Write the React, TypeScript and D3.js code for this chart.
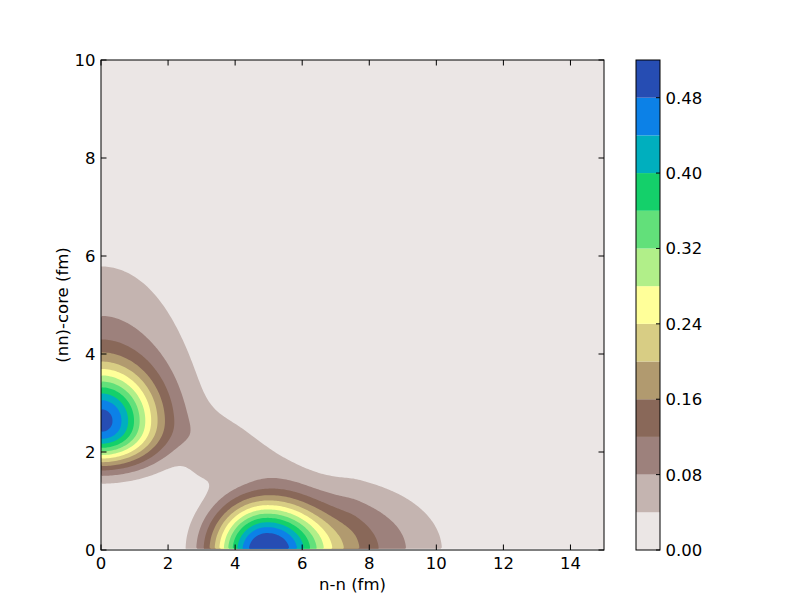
import React, { useEffect, useRef } from 'react';
import * as d3 from 'd3';

// contour levels and one colour per band (terrain_r)
const levels = [0, 0.04, 0.08, 0.12, 0.16, 0.2, 0.24, 0.28, 0.32, 0.36, 0.4, 0.44, 0.48, 0.52];
const bandColors = [
  '#ebe6e5', '#c4b4b0', '#9d817c', '#896859', '#b19a6f', '#d8cd84', '#ffff99',
  '#b1ef89', '#62e07a', '#14d06a', '#00afbe', '#0c81e7', '#264db3',
];
const xTicks = [0, 2, 4, 6, 8, 10, 12, 14];
const yTicks = [0, 2, 4, 6, 8, 10];
const barTicks = [0, 0.08, 0.16, 0.24, 0.32, 0.4, 0.48];

// A core, A halo, B core, B tail, bridge, saddle
const lumpX = [0, 0, 4.92, 7.6, 4.3, 3.05];
const lumpY = [2.64, 2.64, 0, 0, 2.0, 1.7];
const lumpHeight = [0.37, 0.13, 0.52, 0.125, 0.042, 0.03];
const lumpLeft = [1.1, 1.8, 1.14, 0.95, 1.1, 0.45];
const lumpRight = [1.1, 1.8, 1.3, 1.58, 1.4, 0.6];
const lumpDown = [0.68, 0.6, 0.74, 0.9, 0.36, 0.33];
const lumpUp = [0.72, 2.05, 0.74, 0.9, 0.55, 0.5];
const lumpPowX = [2, 2, 2, 1.7, 2, 2];
const lumpPowDown = [2.6, 2, 2, 2, 2, 2];
const lumpPowUp = [2, 2, 2, 2, 2, 2];
const lumpPowAll = [1, 1, 1.1, 1, 1, 1];
const lumpTilt = [0, 0, 0, 0, -15, 0]; // degrees

export default function App() {
  const ref = useRef<SVGSVGElement>(null);

  useEffect(() => {
    const svg = d3.select(ref.current);
    svg.selectAll('*').remove();

    const margin = { left: 101, top: 60, right: 208, bottom: 62 };
    const W = 812, H = 612;
    const w = W - margin.left - margin.right;
    const h = H - margin.top - margin.bottom;
    const font = 'DejaVu Sans, sans-serif';
    const fs = 16.5;
    const tick = 5.5;

    const x = d3.scaleLinear().domain([0, 15]).range([0, w]);
    const y = d3.scaleLinear().domain([0, 10]).range([h, 0]);

    const g = svg.append('g').attr('transform', `translate(${margin.left},${margin.top})`);

    // sample the density on a grid (first row sits just above y = 0)
    const y0 = 0.025;
    const step = 0.05;
    const nx = Math.round(15 / step);
    const ny = Math.round(10 / step);
    const stepY = (10 - y0) / ny;
    const values = new Array(nx * ny);
    for (let j = 0; j < ny; j++) {
      const py = y0 + (j + 0.5) * stepY;
      for (let i = 0; i < nx; i++) {
        const px = (i + 0.5) * step;
        let v = 0;
        for (let k = 0; k < lumpX.length; k++) {
          let dx = px - lumpX[k];
          let dy = py - lumpY[k];
          if (lumpTilt[k]) {
            const a = (lumpTilt[k] * Math.PI) / 180;
            const u = dx * Math.cos(a) + dy * Math.sin(a);
            const n = -dx * Math.sin(a) + dy * Math.cos(a);
            dx = u;
            dy = n;
          }
          const sx = dx < 0 ? lumpLeft[k] : lumpRight[k];
          const sy = dy < 0 ? lumpDown[k] : lumpUp[k];
          const py2 = dy < 0 ? lumpPowDown[k] : lumpPowUp[k];
          const e = Math.pow(Math.abs(dx) / sx, lumpPowX[k]) + Math.pow(Math.abs(dy) / sy, py2);
          v += lumpHeight[k] * Math.exp(-0.5 * Math.pow(e, lumpPowAll[k]));
        }
        values[j * nx + i] = v;
      }
    }

    const contours = d3.contours().size([nx, ny]).thresholds(levels.slice(1, -1))(values);
    const proj = d3.geoTransform({
      point(px, py) {
        this.stream.point(x(px * step), y(y0 + py * stepY));
      },
    });
    const path = d3.geoPath(proj);

    g.append('rect').attr('y', y(10)).attr('width', w).attr('height', y(y0) - y(10)).attr('fill', bandColors[0]);
    g.selectAll('path.band')
      .data(contours)
      .join('path')
      .attr('class', 'band')
      .attr('d', (d) => path(d as any))
      .attr('fill', (d) => bandColors[Math.round(d.value / 0.04)]);

    // frame and inward ticks on all four sides
    g.append('rect').attr('width', w).attr('height', h).attr('fill', 'none').attr('stroke', '#000').attr('stroke-width', 1);
    xTicks.forEach((t) => {
      g.append('line').attr('x1', x(t)).attr('x2', x(t)).attr('y1', h).attr('y2', h - tick).attr('stroke', '#000');
      g.append('line').attr('x1', x(t)).attr('x2', x(t)).attr('y1', 0).attr('y2', tick).attr('stroke', '#000');
      g.append('text').attr('x', x(t)).attr('y', h + 18.5).attr('text-anchor', 'middle')
        .attr('font-family', font).attr('font-size', fs).text(t);
    });
    yTicks.forEach((t) => {
      g.append('line').attr('x1', 0).attr('x2', tick).attr('y1', y(t)).attr('y2', y(t)).attr('stroke', '#000');
      g.append('line').attr('x1', w).attr('x2', w - tick).attr('y1', y(t)).attr('y2', y(t)).attr('stroke', '#000');
      g.append('text').attr('x', -5.5).attr('y', y(t)).attr('dy', '0.36em').attr('text-anchor', 'end')
        .attr('font-family', font).attr('font-size', fs).text(t);
    });
    g.append('text').attr('x', w / 2).attr('y', h + 40).attr('text-anchor', 'middle')
      .attr('font-family', font).attr('font-size', fs).text('n-n (fm)');
    g.append('text').attr('transform', `translate(-33,${h / 2}) rotate(-90)`).attr('text-anchor', 'middle')
      .attr('font-family', font).attr('font-size', fs).text('(nn)-core (fm)');

    // colour bar
    const cb = svg.append('g').attr('transform', `translate(636,${margin.top})`);
    const cbW = 24;
    const c = d3.scaleLinear().domain([0, 0.52]).range([h, 0]);
    cb.selectAll('rect.seg')
      .data(d3.range(bandColors.length))
      .join('rect')
      .attr('class', 'seg')
      .attr('x', 0)
      .attr('width', cbW)
      .attr('y', (i) => c(levels[i + 1]))
      .attr('height', (i) => c(levels[i]) - c(levels[i + 1]))
      .attr('fill', (i) => bandColors[i]);
    cb.append('rect').attr('width', cbW).attr('height', h).attr('fill', 'none').attr('stroke', '#000');
    barTicks.forEach((t) => {
      cb.append('line').attr('x1', cbW).attr('x2', cbW - 4).attr('y1', c(t)).attr('y2', c(t)).attr('stroke', '#000');
      cb.append('text').attr('x', cbW + 5.5).attr('y', c(t)).attr('dy', '0.36em')
        .attr('font-family', font).attr('font-size', fs).text(t.toFixed(2));
    });
  }, []);

  return (
    <svg ref={ref} width={812} height={612} style={{ position: 'absolute', left: 0, top: 0, background: '#fff' }} />
  );
}
